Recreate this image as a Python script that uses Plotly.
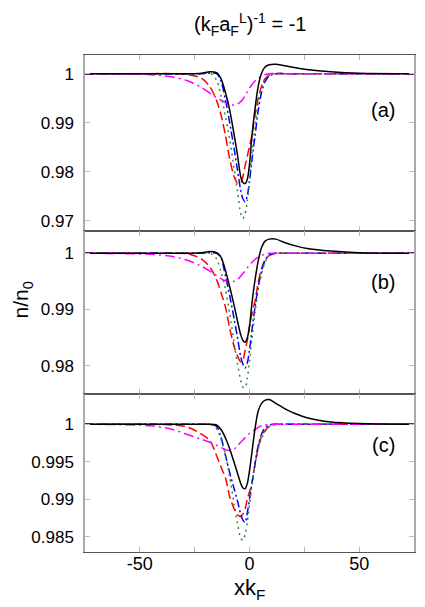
"""Density dip profiles n/n0 vs x k_F, three stacked panels."""

import plotly.graph_objects as go
from plotly.subplots import make_subplots

# common x grid (x k_F)
X = [-75, -45, -35, -28, -22, -18, -15, -13, -11, -9, -7, -5.5, -4, -3, -2,
     -1, 0, 1, 2.5, 4, 5.5, 7, 9, 12, 16, 21, 27, 37, 50, 75]

# panel (a)
A_BLACK = [1.0, 1.0, 1.0, 1.0, 1.0001, 1.0004, 1.0002, 0.9990, 0.9962, 0.9925,
           0.9875, 0.9835, 0.9790, 0.9778, 0.9776, 0.9785, 0.9815, 0.9868, 0.9928,
           0.9975, 1.0001, 1.0013, 1.0018, 1.0019, 1.0016, 1.0012, 1.0008, 1.0004,
           1.0001, 1.0]
A_RED = [1.0, 1.0, 1.0, 0.9998, 0.9991, 0.9973, 0.9945, 0.9916, 0.9875, 0.9826,
         0.9790, 0.9777, 0.9778, 0.9790, 0.9812, 0.9832, 0.9852, 0.9872, 0.9915,
         0.9950, 0.9975, 0.9989, 0.9997, 1.0, 1.0, 1.0, 1.0, 1.0, 1.0, 1.0]
A_BLUE = [1.0, 1.0, 1.0, 1.0, 1.0, 1.0001, 1.0, 0.9985, 0.9948, 0.9899,
          0.9847, 0.9804, 0.9762, 0.9745, 0.9739, 0.9752, 0.9780, 0.9820, 0.9872,
          0.9926, 0.9962, 0.9983, 0.9995, 1.0, 1.0, 1.0, 1.0, 1.0, 1.0, 1.0]
A_GREEN = [1.0, 1.0, 1.0, 1.0, 1.0, 1.0001, 0.9987, 0.9955, 0.9914, 0.9866,
           0.9806, 0.9762, 0.9715, 0.9705, 0.9715, 0.9740, 0.9785, 0.9834, 0.9892,
           0.9940, 0.9972, 0.9989, 0.9998, 1.0, 1.0, 1.0, 1.0, 1.0, 1.0, 1.0]
A_MAGENTA = [1.0, 0.9998, 0.9993, 0.9985, 0.9972, 0.9960, 0.9951, 0.9946, 0.9941,
             0.9937, 0.9936, 0.9938, 0.9943, 0.9948, 0.9955, 0.9963, 0.9970, 0.9977,
             0.9985, 0.9991, 0.9995, 0.9998, 1.0, 1.0, 1.0, 1.0, 1.0, 1.0, 1.0, 1.0]

# panel (b)
B_BLACK = [1.0, 1.0, 1.0, 1.0, 1.0001, 1.0003, 1.0001, 0.9993, 0.9970, 0.9940,
           0.9907, 0.9880, 0.9855, 0.9845, 0.9842, 0.9850, 0.9870, 0.9907, 0.9952,
           0.9987, 1.0010, 1.0021, 1.0025, 1.0025, 1.0019, 1.0013, 1.0008, 1.0004,
           1.0001, 1.0]
B_RED = [1.0, 1.0, 1.0, 0.9999, 0.9990, 0.9975, 0.9953, 0.9930, 0.9905, 0.9866,
         0.9834, 0.9818, 0.9807, 0.9810, 0.9828, 0.9845, 0.9870, 0.9890, 0.9915,
         0.9948, 0.9973, 0.9987, 0.9996, 1.0, 1.0, 1.0, 1.0, 1.0, 1.0, 1.0]
B_BLUE = [1.0, 1.0, 1.0, 1.0, 1.0, 1.0001, 1.0, 0.9992, 0.9960, 0.9924,
          0.9883, 0.9851, 0.9816, 0.9803, 0.9796, 0.9805, 0.9828, 0.9860, 0.9904,
          0.9941, 0.9968, 0.9986, 0.9997, 1.0, 1.0, 1.0, 1.0, 1.0, 1.0, 1.0]
B_GREEN = [1.0, 1.0, 1.0, 1.0, 1.0, 1.0, 0.9990, 0.9967, 0.9937, 0.9892,
           0.9840, 0.9804, 0.9774, 0.9762, 0.9761, 0.9778, 0.9808, 0.9843, 0.9895,
           0.9935, 0.9963, 0.9983, 0.9996, 1.0, 1.0, 1.0, 1.0, 1.0, 1.0, 1.0]
B_MAGENTA = [1.0, 0.9998, 0.9994, 0.9987, 0.9977, 0.9968, 0.9960, 0.9955, 0.9951,
             0.9949, 0.9950, 0.9953, 0.9959, 0.9964, 0.9968, 0.9974, 0.9979, 0.9983,
             0.9989, 0.9993, 0.9996, 0.9998, 1.0, 1.0, 1.0, 1.0, 1.0, 1.0, 1.0, 1.0]

# panel (c)
C_BLACK = [1.0, 1.0, 1.0, 1.0, 1.0, 1.0, 0.9999, 0.9993, 0.9982, 0.9967,
           0.9949, 0.9935, 0.9921, 0.9915, 0.9914, 0.9921, 0.9938, 0.9960, 0.9994,
           1.0018, 1.0028, 1.0032, 1.0033, 1.0028, 1.0021, 1.0014, 1.0008, 1.0003,
           1.0001, 1.0]
C_RED = [1.0, 1.0, 0.9999, 0.9996, 0.9987, 0.9978, 0.9958, 0.9943, 0.9929, 0.9903,
         0.9887, 0.9879, 0.9877, 0.9880, 0.9887, 0.9900, 0.9910, 0.9920, 0.9946,
         0.9969, 0.9984, 0.9991, 0.9997, 1.0, 1.0, 1.0, 1.0, 1.0, 1.0, 1.0]
C_BLUE = [1.0, 1.0, 1.0, 1.0, 1.0, 1.0, 0.9997, 0.9983, 0.9959, 0.9935,
          0.9914, 0.9898, 0.9880, 0.9872, 0.9869, 0.9882, 0.9900, 0.9919, 0.9947,
          0.9972, 0.9987, 0.9995, 0.9999, 1.0, 1.0, 1.0, 1.0, 1.0, 1.0, 1.0]
C_GREEN = [1.0, 1.0, 1.0, 1.0, 1.0, 1.0, 0.9994, 0.9980, 0.9960, 0.9930,
           0.9893, 0.9868, 0.9848, 0.9845, 0.9853, 0.9870, 0.9892, 0.9917, 0.9946,
           0.9967, 0.9981, 0.9990, 0.9997, 1.0, 1.0, 1.0, 1.0, 1.0, 1.0, 1.0]
C_MAGENTA = [1.0, 0.9998, 0.9993, 0.9986, 0.9980, 0.9976, 0.9972, 0.9969, 0.9966,
             0.9965, 0.9967, 0.9971, 0.9976, 0.9979, 0.9982, 0.9985, 0.9988, 0.9990,
             0.9993, 0.9996, 0.9998, 0.9999, 1.0, 1.0, 1.0, 1.0, 1.0, 1.0, 1.0, 1.0]

PANEL_LABELS = ["(a)", "(b)", "(c)"]
Y_RANGES = [[0.968, 1.0038], [0.975, 1.004], [0.98295, 1.00405]]
Y_TICKS = [[0.97, 0.98, 0.99, 1.0], [0.98, 0.99, 1.0], [0.985, 0.99, 0.995, 1.0]]
Y_TICKTEXT = [["0.97", "0.98", "0.99", "1"], ["0.98", "0.99", "1"],
              ["0.985", "0.99", "0.995", "1"]]
X_TICKS = [-50, -25, 0, 25, 50]
X_TICKTEXT = ["-50", "", "0", "", "50"]

panels = [
    [A_BLACK, A_RED, A_BLUE, A_GREEN, A_MAGENTA],
    [B_BLACK, B_RED, B_BLUE, B_GREEN, B_MAGENTA],
    [C_BLACK, C_RED, C_BLUE, C_GREEN, C_MAGENTA],
]
styles = [
    dict(color="black", dash="solid"),
    dict(color="#ff0000", dash="9px,4px"),
    dict(color="#0000ff", dash="8px,3px,2px,3px"),
    dict(color="#2e8b2e", dash="2px,4px"),
    dict(color="#ff00ff", dash="10px,4px,2px,4px"),
]

FONT = "Liberation Sans, Arial, sans-serif"

fig = make_subplots(rows=3, cols=1, shared_xaxes=True, vertical_spacing=0,
                    row_heights=[0.3535, 0.3285, 0.318])

for row, curves in enumerate(panels, start=1):
    # black drawn last so it sits on top
    for k in [1, 2, 3, 4, 0]:
        fig.add_trace(go.Scatter(
            x=X, y=curves[k], mode="lines", showlegend=False,
            line=dict(color=styles[k]["color"], dash=styles[k]["dash"],
                      width=1.5, shape="spline", smoothing=0.8),
        ), row=row, col=1)
    fig.update_yaxes(
        range=Y_RANGES[row - 1], tickvals=Y_TICKS[row - 1],
        ticktext=Y_TICKTEXT[row - 1], ticks="inside", ticklen=5,
        tickcolor="#bbbbbb", showline=True, linecolor="#aaaaaa", linewidth=1.5,
        mirror="ticks", showgrid=False, zeroline=False, ticklabelstandoff=6,
        tickfont=dict(size=17, color="black", family=FONT),
        row=row, col=1,
    )
    fig.update_xaxes(
        range=[-75, 75], tickvals=X_TICKS, ticktext=X_TICKTEXT,
        ticks="inside", ticklen=5, tickcolor="#bbbbbb", showline=True,
        linecolor="#555555", linewidth=1, mirror="ticks", showgrid=False,
        zeroline=False, showticklabels=(row == 3), ticklabelstandoff=-5,
        tickfont=dict(size=18, color="black", family=FONT),
        row=row, col=1,
    )

label_y = [0.889, 0.543, 0.215]
for lab, ly in zip(PANEL_LABELS, label_y):
    fig.add_annotation(text=lab, x=0.906, y=ly, xref="paper", yref="paper",
                       xanchor="center", yanchor="middle", showarrow=False,
                       font=dict(size=20, color="black", family=FONT))

fig.add_annotation(text="(k<sub>F</sub>a<sub>F</sub><sup>L</sup>)<sup>-1</sup> = -1",
                   x=0.5, y=1.062, xref="paper", yref="paper", showarrow=False,
                   xanchor="center", yanchor="middle",
                   font=dict(size=20, color="black", family=FONT))
fig.add_annotation(text="n/n<sub>0</sub>", x=-0.19, y=0.507, xref="paper",
                   yref="paper", showarrow=False, textangle=-90,
                   xanchor="center", yanchor="middle",
                   font=dict(size=21, color="black", family=FONT))
fig.add_annotation(text="xk<sub>F</sub>", x=0.5, y=-0.075, xref="paper",
                   yref="paper", showarrow=False,
                   xanchor="center", yanchor="middle",
                   font=dict(size=22, color="black", family=FONT))

# page body adds an 8px offset, so the figure is 8px smaller on each axis
fig.update_layout(
    width=417, height=599, template="plotly_white",
    margin=dict(l=77, r=9, t=47, b=55),
    paper_bgcolor="white", plot_bgcolor="white",
    font=dict(family=FONT, color="black"),
)

fig.write_html("out.html")
